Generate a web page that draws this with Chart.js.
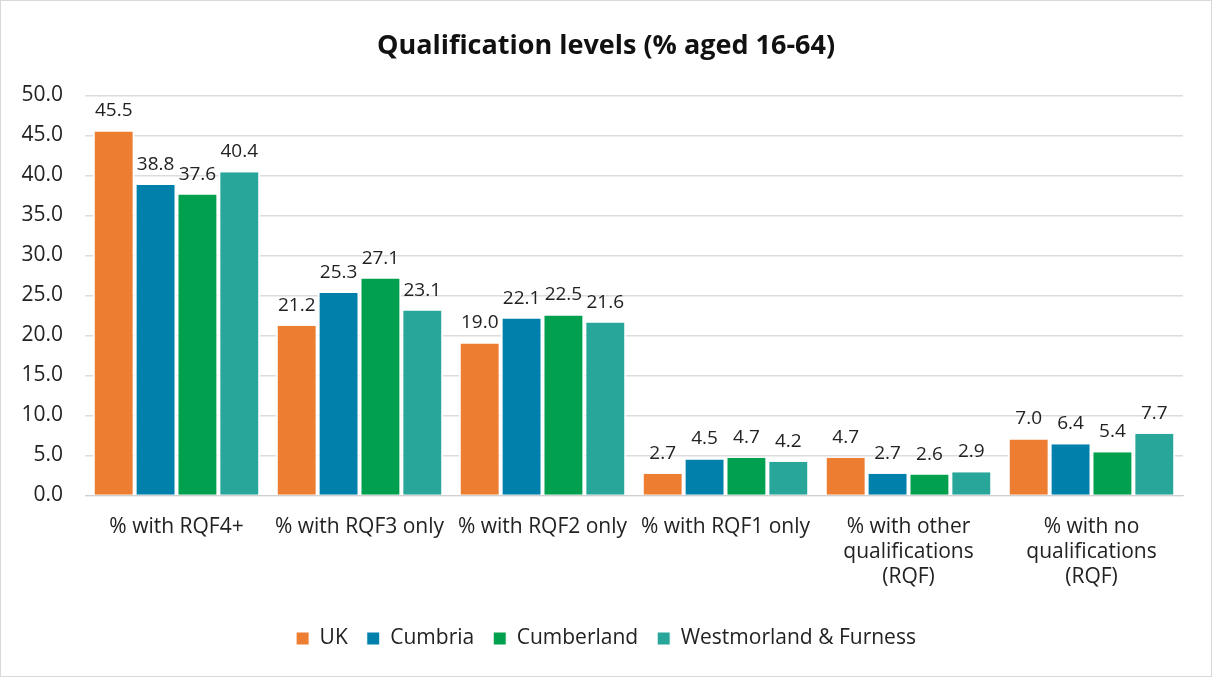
<!DOCTYPE html>
<html><head><meta charset="utf-8">
<script src="https://cdn.jsdelivr.net/npm/chart.js@4"></script>
<style>
html,body{margin:0;padding:0;background:#fff;}
#wrap{position:absolute;left:0;top:0;width:1210px;height:675px;border:1px solid #d9d9d9;}
canvas{display:block;}
</style></head><body>
<div id="wrap"><canvas id="c" width="1210" height="675"></canvas></div>
<script>
const categories = [
  "% with RQF4+",
  "% with RQF3 only",
  "% with RQF2 only",
  "% with RQF1 only",
  ["% with other", "qualifications", "(RQF)"],
  ["% with no", "qualifications", "(RQF)"]
];
const seriesNames = ["UK", "Cumbria", "Cumberland", "Westmorland & Furness"];
const ukValues = [45.5, 21.2, 19.0, 2.7, 4.7, 7.0];
const cumbriaValues = [38.8, 25.3, 22.1, 4.5, 2.7, 6.4];
const cumberlandValues = [37.6, 27.1, 22.5, 4.7, 2.6, 5.4];
const wfValues = [40.4, 23.1, 21.6, 4.2, 2.9, 7.7];
const colors = ["#ED7D31", "#0080AB", "#00A04F", "#27A699"];
const FONT = "'Open Sans', 'Noto Sans', sans-serif";

const dataLabels = {
  id: 'dataLabels',
  afterDatasetsDraw(chart) {
    const ctx = chart.ctx;
    ctx.save();
    ctx.font = "19px " + FONT;
    ctx.fillStyle = "#222";
    ctx.textAlign = "center";
    ctx.textBaseline = "bottom";
    chart.data.datasets.forEach((ds, i) => {
      chart.getDatasetMeta(i).data.forEach((bar, j) => {
        ctx.fillText(ds.data[j].toFixed(1), bar.x, bar.y - 11);
      });
    });
    ctx.restore();
  }
};

const allSeries = [ukValues, cumbriaValues, cumberlandValues, wfValues];
new Chart(document.getElementById('c'), {
  type: 'bar',
  data: {
    labels: categories,
    datasets: allSeries.map((d, i) => ({
      label: seriesNames[i],
      data: d,
      backgroundColor: colors[i],
      borderColor: '#ffffff',
      borderWidth: {left: 2, right: 2, top: 0, bottom: 0},
      categoryPercentage: 0.915,
      barPercentage: 1.0
    }))
  },
  options: {
    responsive: false,
    animation: false,
    layout: {padding: {left: 0, right: 0, top: 10, bottom: 17}},
    plugins: {
      title: {
        display: true,
        text: "Qualification levels (% aged 16-64)",
        font: {family: FONT, size: 27, weight: 'bold'},
        color: '#111',
        padding: {top: 19, bottom: 33}
      },
      legend: {
        position: 'bottom',
        labels: {
          font: {family: FONT, size: 21},
          color: '#222',
          boxWidth: 13, boxHeight: 13,
          padding: 19
        }
      },
      tooltip: {enabled: false}
    },
    scales: {
      x: {
        grid: {display: false, drawTicks: false},
        border: {color: '#d0d0d0'},
        ticks: {font: {family: FONT, size: 21}, color: '#222', padding: 19, maxRotation: 0, autoSkip: false}
      },
      y: {
        min: 0, max: 50,
        afterFit: s => { s.width = 84; },
        ticks: {stepSize: 5, font: {family: FONT, size: 21}, color: '#222', padding: 22,
          callback: v => Number(v).toFixed(1)},
        grid: {color: '#dcdcdc', lineWidth: 1.5, drawTicks: false},
        border: {display: false}
      },
      y2: {
        type: 'linear',
        position: 'right',
        min: 0, max: 50,
        afterFit: s => { s.width = 28; },
        ticks: {display: false},
        grid: {display: false, drawTicks: false},
        border: {display: false}
      }
    }
  },
  plugins: [dataLabels]
});
</script>
</body></html>
